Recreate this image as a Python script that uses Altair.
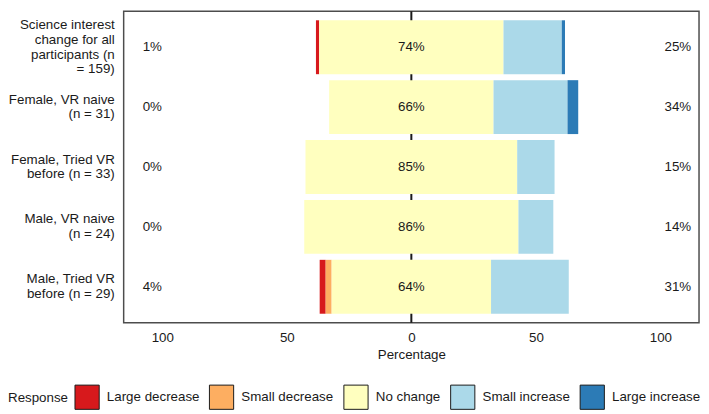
import altair as alt
import pandas as pd

categories = [
    "Science interest\nchange for all\nparticipants (n\n= 159)",
    "Female, VR naive\n(n = 31)",
    "Female, Tried VR\nbefore (n = 33)",
    "Male, VR naive\n(n = 24)",
    "Male, Tried VR\nbefore (n = 29)",
]
responses = ["Large decrease", "Small decrease", "No change", "Small increase", "Large increase"]
colors = ["#d7191c", "#fdae61", "#ffffbf", "#abd9e9", "#2c7bb6"]

large_decrease = [1.3, 0.0, 0.0, 0.0, 2.4]
small_decrease = [0.0, 0.0, 0.0, 0.0, 2.4]
no_change = [74.0, 66.0, 85.0, 86.0, 64.0]
small_increase = [23.4, 29.7, 15.0, 14.0, 31.2]
large_increase = [1.3, 4.3, 0.0, 0.0, 0.0]

low_labels = ["1%", "0%", "0%", "0%", "4%"]
mid_labels = ["74%", "66%", "85%", "86%", "64%"]
high_labels = ["25%", "34%", "15%", "14%", "31%"]
x_ticks = [-100, -50, 0, 50, 100]

LOW_X, MID_X, HIGH_X = -104, 0, 107
FONT = "Liberation Sans"
FS = 13.5
LH = 15
TXT = "#1a1a1a"

rows = []
for i, cat in enumerate(categories):
    vals = [large_decrease[i], small_decrease[i], no_change[i], small_increase[i], large_increase[i]]
    start = -(no_change[i] / 2 + small_decrease[i] + large_decrease[i])
    for r, v in zip(responses, vals):
        if v > 0:
            rows.append({"Group": cat, "Response": r, "x": start, "x2": start + v})
        start += v
seg = pd.DataFrame(rows)

lab_rows = []
for i, cat in enumerate(categories):
    lab_rows.append({"Group": cat, "x": LOW_X, "t": low_labels[i]})
    lab_rows.append({"Group": cat, "x": MID_X, "t": mid_labels[i]})
    lab_rows.append({"Group": cat, "x": HIGH_X, "t": high_labels[i]})
labs = pd.DataFrame(lab_rows)

cat_df = pd.DataFrame({"Group": categories,
                       "nlines": [c.count("\n") + 1 for c in categories]})

xscale = alt.Scale(domain=[-115.5, 115.5], nice=False, zero=False)
yscale = alt.Scale(domain=categories, paddingInner=0.1, paddingOuter=0.15)

xaxis = alt.Axis(values=x_ticks, labelExpr="abs(datum.value)", title="Percentage",
                 grid=False, domain=False, ticks=False, labelPadding=8, titlePadding=4,
                 labelFontSize=FS, titleFontSize=FS, titleFontWeight="normal",
                 labelColor=TXT, titleColor=TXT, labelFont=FONT, titleFont=FONT)
yaxis = alt.Axis(title=None, domain=False, ticks=False, grid=False, labels=False)

zero = alt.Chart(pd.DataFrame({"z": [0]})).mark_rule(color="#1a1a1a", strokeWidth=2).encode(
    x=alt.X("z:Q", scale=xscale, axis=xaxis)
)

bars = alt.Chart(seg).mark_bar().encode(
    x=alt.X("x:Q", scale=xscale, axis=xaxis),
    x2="x2:Q",
    y=alt.Y("Group:N", scale=yscale, axis=yaxis, sort=categories),
    color=alt.Color("Response:N", scale=alt.Scale(domain=responses, range=colors),
                    legend=alt.Legend(orient="none", legendX=-117, legendY=377,
                                      direction="horizontal", titleOrient="left",
                                      title="Response", titleFontSize=FS, titleFontWeight="normal",
                                      titleFont=FONT, titleColor=TXT, labelFont=FONT,
                                      labelFontSize=FS, labelColor=TXT, symbolType="square",
                                      symbolSize=600, symbolStrokeColor="#1a1a1a",
                                      symbolStrokeWidth=1, symbolOpacity=1, labelOffset=7,
                                      columnPadding=7, titlePadding=6, titleBaseline="middle",
                                      titleAnchor="middle")),
)

texts = alt.Chart(labs).mark_text(fontSize=FS, font=FONT, color=TXT).encode(
    x=alt.X("x:Q", scale=xscale, axis=xaxis),
    y=alt.Y("Group:N", scale=yscale, axis=yaxis, sort=categories),
    text="t:N",
)

def ylabels(n):
    return alt.Chart(cat_df).transform_filter(f"datum.nlines == {n}").mark_text(
        fontSize=FS, font=FONT, color=TXT, align="right", baseline="middle",
        lineBreak="\n", lineHeight=LH, dy=-(n - 1) * LH / 2
    ).encode(
        x=alt.value(-9),
        y=alt.Y("Group:N", scale=yscale, axis=yaxis, sort=categories),
        text="Group:N",
    )

chart = alt.layer(zero, bars, texts, ylabels(4), ylabels(2)).properties(
    width=582, height=315, padding=0
).configure_view(stroke="#4d4d4d", strokeWidth=1.5)

chart.save("out.html", embed_options={"renderer": "svg", "actions": False})
